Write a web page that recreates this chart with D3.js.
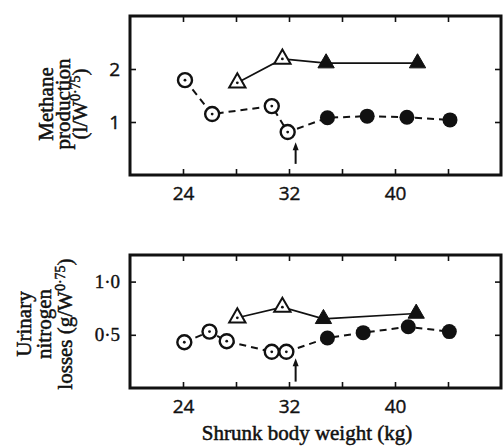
<!DOCTYPE html>
<html>
<head>
<meta charset="utf-8">
<script src="https://cdn.jsdelivr.net/npm/d3@7"></script>
<style>
body { margin: 0; background: #fff; }
svg { display: block; }
</style>
</head>
<body>
<svg width="503" height="447"></svg>
<script>
// methane panel, shrunk body weight (kg) vs l/W^0.75
var weightOpen = [24.15, 26.2, 30.7, 31.9];
var methaneOpen = [1.79, 1.15, 1.30, 0.81];
var weightFilled = [34.9, 37.9, 40.9, 44.15];
var methaneFilled = [1.08, 1.11, 1.09, 1.04];
var weightOpenTri = [28.1, 31.5];
var methaneOpenTri = [1.74, 2.19];
var weightFilledTri = [34.8, 41.7];
var methaneFilledTri = [2.11, 2.11];

// urinary nitrogen panel, g/W^0.75
var nWeightOpen = [24.1, 26.0, 27.3, 30.7, 31.8];
var nitrogenOpen = [0.43, 0.53, 0.44, 0.34, 0.34];
var nWeightFilled = [34.9, 37.6, 41.0, 44.1];
var nitrogenFilled = [0.47, 0.52, 0.575, 0.53];
var nWeightOpenTri = [28.1, 31.5];
var nitrogenOpenTri = [0.66, 0.76];
var nWeightFilledTri = [34.6, 41.6];
var nitrogenFilledTri = [0.65, 0.70];

var xTicks = [24, 28, 32, 36, 40, 44];
var xTickLabels = ['24', '', '32', '', '40', ''];
var methaneTicks = [1, 2];
var methaneTickLabels = ['1', '2'];
var nitrogenTicks = [0.5, 1.0];
var nitrogenTickLabels = ['0·5', '1·0'];

// arrow marking the change of diet
var arrowWeight = 32.5;
var methaneArrow = [0.21, 0.62];
var nitrogenArrow = [0.06, 0.28];

var serif = '"Liberation Serif", "Times New Roman", serif';
var sans = '"Open Sans", "DejaVu Sans", sans-serif';
var ink = '#111';

var svg = d3.select('svg');
var x = d3.scaleLinear().domain([20, 48]).range([130, 501]);

function panel(o) {
  var y = d3.scaleLinear().domain(o.yDomain).range(o.yRange);
  var g = svg.append('g');
  var x0 = x.range()[0], x1 = x.range()[1], yb = y.range()[0], yt = y.range()[1];

  // ticks, inward on all four sides
  var ax = [
    [d3.axisBottom(x).tickValues(xTicks).tickFormat((d, i) => xTickLabels[i]), yb, 'x', sans],
    [d3.axisTop(x).tickValues(xTicks).tickFormat(''), yt, 'x', sans],
    [d3.axisLeft(y).tickValues(o.ticks).tickFormat((d, i) => o.tickLabels[i]), x0, 'y', o.tickFont],
    [d3.axisRight(y).tickValues(o.ticks).tickFormat(''), x1, 'y', sans]
  ];
  ax.forEach(a => {
    var t = a[2] === 'x' ? 'translate(0,' + a[1] + ')' : 'translate(' + a[1] + ',0)';
    var ag = g.append('g').attr('transform', t)
      .call(a[0].tickSizeInner(-6).tickSizeOuter(0).tickPadding(a[2] === 'x' ? 12 : 10));
    ag.select('.domain').remove();
    ag.selectAll('line').attr('stroke', ink).attr('stroke-width', 1.6);
    ag.selectAll('text').attr('font-family', a[3]).attr('font-size', 19)
      .attr('fill', ink).attr('stroke', ink).attr('stroke-width', 0.4);
  });

  g.append('rect')
    .attr('x', x0).attr('y', yt)
    .attr('width', x1 - x0).attr('height', yb - yt)
    .attr('fill', 'none').attr('stroke', ink).attr('stroke-width', 3);

  var line = d3.line().x(d => x(d[0])).y(d => y(d[1]));
  var circles = d3.zip(o.wOpen, o.vOpen).concat(d3.zip(o.wFilled, o.vFilled));
  var tris = d3.zip(o.wOpenTri, o.vOpenTri).concat(d3.zip(o.wFilledTri, o.vFilledTri));

  g.append('path').attr('d', line(circles))
    .attr('fill', 'none').attr('stroke', ink).attr('stroke-width', 2)
    .attr('stroke-dasharray', '7,5');
  g.append('path').attr('d', line(tris))
    .attr('fill', 'none').attr('stroke', ink).attr('stroke-width', 1.6);

  // arrow
  var ya = o.arrow;
  g.append('line')
    .attr('x1', x(arrowWeight)).attr('x2', x(arrowWeight))
    .attr('y1', y(ya[0])).attr('y2', y(ya[1]) + 5)
    .attr('stroke', ink).attr('stroke-width', 2);
  g.append('path')
    .attr('d', 'M' + x(arrowWeight) + ',' + y(ya[1]) + 'l-3,8h6z')
    .attr('fill', ink);

  var tri = d3.symbol(d3.symbolTriangle, 115);

  g.selectAll('.oc').data(d3.zip(o.wOpen, o.vOpen)).join('circle')
    .attr('cx', d => x(d[0])).attr('cy', d => y(d[1])).attr('r', 7)
    .attr('fill', '#fff').attr('stroke', ink).attr('stroke-width', 2.4);
  g.selectAll('.fc').data(d3.zip(o.wFilled, o.vFilled)).join('circle')
    .attr('cx', d => x(d[0])).attr('cy', d => y(d[1])).attr('r', 7.5)
    .attr('fill', ink);
  g.selectAll('.ot').data(d3.zip(o.wOpenTri, o.vOpenTri)).join('path')
    .attr('transform', d => 'translate(' + x(d[0]) + ',' + y(d[1]) + ')')
    .attr('d', tri).attr('fill', '#fff').attr('stroke', ink).attr('stroke-width', 2);
  g.selectAll('.ft').data(d3.zip(o.wFilledTri, o.vFilledTri)).join('path')
    .attr('transform', d => 'translate(' + x(d[0]) + ',' + y(d[1]) + ')')
    .attr('d', tri).attr('fill', ink).attr('stroke', ink).attr('stroke-width', 1);
  // centre dots of the open symbols
  g.selectAll('.dot').data(d3.zip(o.wOpen, o.vOpen).concat(d3.zip(o.wOpenTri, o.vOpenTri))).join('circle')
    .attr('cx', d => x(d[0])).attr('cy', d => y(d[1])).attr('r', 1.4)
    .attr('fill', ink);

  // y label, three rotated lines
  o.label.forEach((ln, i) => {
    var t = g.append('text')
      .attr('transform', 'translate(' + o.labelX[i] + ',' + o.labelY + ') rotate(-90)')
      .attr('text-anchor', 'middle')
      .attr('font-family', serif).attr('font-size', 21)
      .attr('fill', ink).attr('stroke', ink).attr('stroke-width', 0.5);
    t.append('tspan').text(ln[0]);
    if (ln[1]) {
      t.append('tspan').attr('font-size', 14).attr('dy', -7).text(ln[1]);
      t.append('tspan').attr('dy', 7).text(ln[2]);
    }
  });
}

panel({
  yDomain: [0, 3], yRange: [175, 16],
  ticks: methaneTicks, tickLabels: methaneTickLabels, tickFont: sans,
  wOpen: weightOpen, vOpen: methaneOpen,
  wFilled: weightFilled, vFilled: methaneFilled,
  wOpenTri: weightOpenTri, vOpenTri: methaneOpenTri,
  wFilledTri: weightFilledTri, vFilledTri: methaneFilledTri,
  arrow: methaneArrow,
  label: [['Methane'], ['production'], ['(l/W', '0·75', ')']],
  labelX: [53, 70, 87], labelY: 104
});

panel({
  yDomain: [0, 1.25], yRange: [388, 255],
  ticks: nitrogenTicks, tickLabels: nitrogenTickLabels, tickFont: serif,
  wOpen: nWeightOpen, vOpen: nitrogenOpen,
  wFilled: nWeightFilled, vFilled: nitrogenFilled,
  wOpenTri: nWeightOpenTri, vOpenTri: nitrogenOpenTri,
  wFilledTri: nWeightFilledTri, vFilledTri: nitrogenFilledTri,
  arrow: nitrogenArrow,
  label: [['Urinary'], ['nitrogen'], ['losses (g/W', '0·75', ')']],
  labelX: [31, 51, 72], labelY: 324
});

svg.append('text')
  .attr('x', 307).attr('y', 440)
  .attr('text-anchor', 'middle')
  .attr('font-family', serif).attr('font-size', 21)
  .attr('fill', ink).attr('stroke', ink).attr('stroke-width', 0.5)
  .text('Shrunk body weight (kg)');
</script>
</body>
</html>
